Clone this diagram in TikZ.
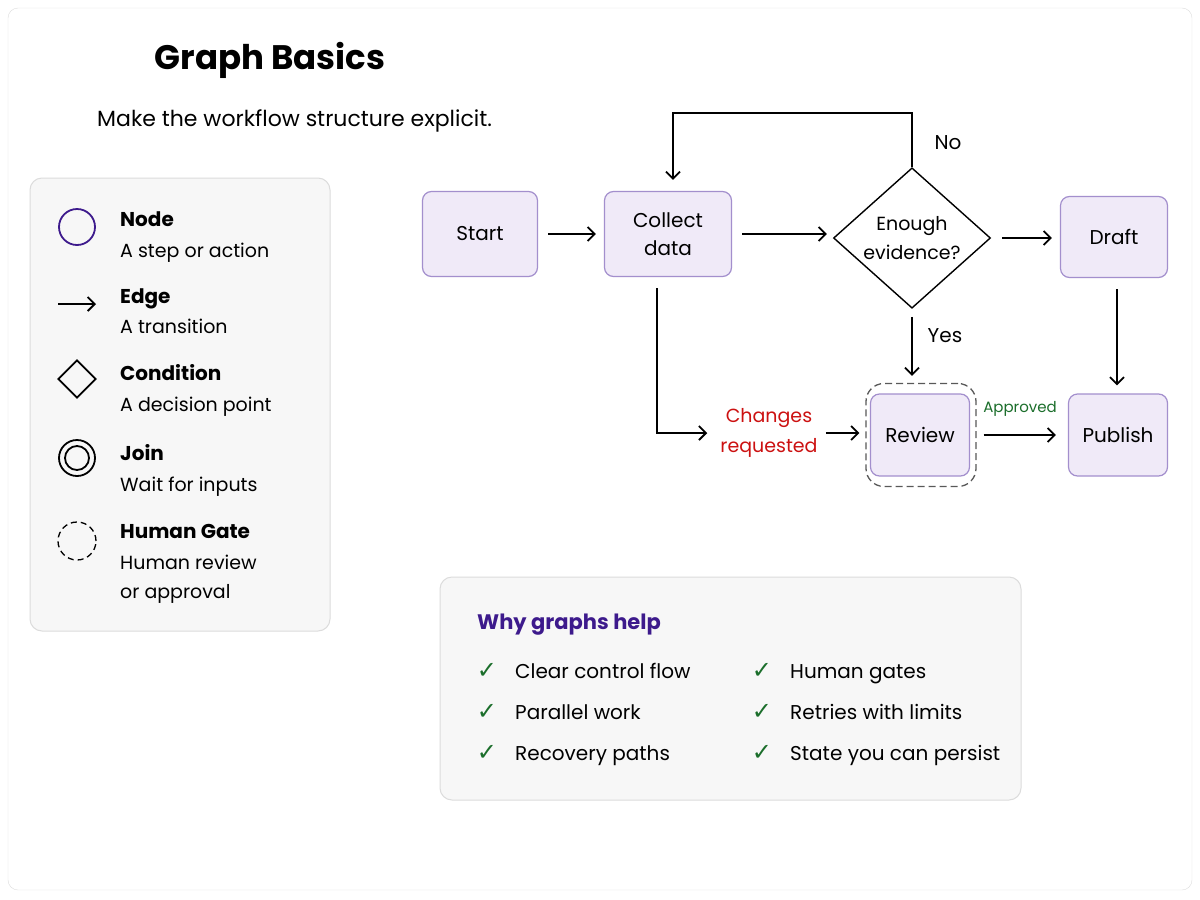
\documentclass[tikz,border=0pt]{standalone}
\usepackage{fontspec}
\setmainfont{Poppins}
\newfontfamily\symfont{DejaVu Sans}
\usetikzlibrary{arrows.meta,shapes.geometric}

\definecolor{nodefill}{HTML}{F0EAF8}
\definecolor{nodeline}{HTML}{A38FCD}
\definecolor{deeppurple}{HTML}{3D1A8C}
\definecolor{panelfill}{HTML}{F7F7F7}
\definecolor{panelline}{HTML}{DCDCDC}
\definecolor{redtext}{HTML}{CC1111}
\definecolor{greentext}{HTML}{1B6E2B}

\tikzset{
  stepnode/.style={draw=nodeline, fill=nodefill, rounded corners=9pt, line width=1.2pt,
    align=center, font=\fontsize{20}{28}\selectfont},
  flow/.style={-{Straight Barb[length=7pt,width=14pt]}, line width=1.8pt},
  panel/.style={draw=panelline, fill=panelfill, rounded corners=12pt, line width=1pt},
  keyname/.style={anchor=base west, inner sep=0pt, font=\fontsize{20}{24}\selectfont\bfseries},
  keytext/.style={anchor=base west, inner sep=0pt, font=\fontsize{19}{24}\selectfont},
  plain/.style={inner sep=0pt, font=\fontsize{20}{24}\selectfont},
  tick/.style={inner sep=0pt, text=greentext, font=\fontsize{24}{28}\symfont},
  perk/.style={anchor=base west, inner sep=0pt, font=\fontsize{20}{24}\selectfont}
}

\begin{document}
\begin{tikzpicture}[x=1pt, y=-1pt]
    \useasboundingbox (0,0) rectangle (1200,900);

    % Frame and headings
    \draw[draw=panelline, fill=white, rounded corners=10pt] (8,8) rectangle (1192,890);
    \node[inner sep=0pt, font=\fontsize{34}{40}\selectfont\bfseries] (title) at (270,60) {Graph Basics};
    \node[anchor=base west, inner sep=0pt, font=\fontsize{22}{26}\selectfont] (subtitle) at (97,126) {Make the workflow structure explicit.};

    % Legend
    \draw[panel] (30,178) rectangle (330,631);
    \node[circle, draw=deeppurple, line width=1.8pt, minimum size=36pt, inner sep=0pt] (keynode) at (77,227) {};
    \node[keyname] (nodename) at (120,226) {Node};
    \node[keytext] (nodetext) at (120,257) {A step or action};
    \coordinate (edgefrom) at (58,304);
    \coordinate (edgeto) at (96,304);
    \draw[flow] (edgefrom) -- (edgeto);
    \node[keyname] (edgename) at (120,303) {Edge};
    \node[keytext] (edgetext) at (120,333) {A transition};
    \node[diamond, draw, line width=1.8pt, minimum size=38pt, inner sep=0pt] (keycond) at (77,379) {};
    \node[keyname] (condname) at (120,380) {Condition};
    \node[keytext] (condtext) at (120,411) {A decision point};
    \node[circle, draw, line width=1.8pt, minimum size=36pt, inner sep=0pt] (keyjoin) at (77,458) {};
    \node[circle, draw, line width=1.8pt, minimum size=24pt, inner sep=0pt] (keyjoininner) at (keyjoin) {};
    \node[keyname] (joinname) at (120,460) {Join};
    \node[keytext] (jointext) at (120,491) {Wait for inputs};
    \node[circle, draw, dashed, dash pattern=on 6pt off 4pt, line width=1.3pt, minimum size=38pt, inner sep=0pt] (keygate) at (77,541) {};
    \node[keyname] (gatename) at (120,538) {Human Gate};
    \node[keytext] (gatetext) at (120,569) {Human review};
    \node[keytext] (gatetextb) at (120,598) {or approval};

    % Workflow nodes
    \node[stepnode, minimum width=115pt, minimum height=85pt] (start) at (480,234) {Start};
    \node[stepnode, minimum width=127pt, minimum height=85pt] (collect) at (668,234) {Collect\\data};
    \node[diamond, draw, line width=1.4pt, minimum width=157pt, minimum height=136pt, inner sep=0pt,
      align=center, font=\fontsize{19}{29}\selectfont] (cond) at (912,238) {Enough\\evidence?};
    \node[stepnode, minimum width=107pt, minimum height=81pt] (draft) at (1114,237) {Draft};
    \node[draw=black!65, dashed, dash pattern=on 7pt off 4pt, line width=1.3pt, rounded corners=18pt,
      minimum width=110pt, minimum height=103pt] (gate) at (921,435) {};
    \node[stepnode, minimum width=99pt, minimum height=82pt] (review) at (920,435) {Review};
    \node[stepnode, minimum width=99pt, minimum height=82pt] (publish) at (1118,435) {Publish};

    % Edge labels
    \node[plain] (no) at (948,143) {No};
    \node[plain] (yes) at (945,336) {Yes};
    \node[inner sep=0pt, align=center, text=redtext, font=\fontsize{19}{30}\selectfont] (changes) at (769,433) {Changes\\requested};
    \node[inner sep=0pt, text=greentext, font=\fontsize{15}{18}\selectfont] (approved) at (1020,409) {Approved};

    % Draw the edges
    \draw[flow, shorten <=10pt, shorten >=8pt] (start) -- (collect);
    \draw[flow, shorten <=10pt, shorten >=6pt] (collect.east) -- (collect.east -| cond.west);
    \draw[flow, shorten <=11pt, shorten >=8pt] (cond.east) -- (cond.east -| draft.west);
    \draw[flow, shorten >=11pt] (cond.north) -- ++(0,-54) -| ([xshift=5pt]collect.north);
    \draw[flow, shorten <=8pt, shorten >=7pt] (cond.south) -- (cond.south |- gate.north);
    \draw[flow, shorten <=11pt, shorten >=8pt] ([xshift=3pt]draft.south) -- ([xshift=3pt]draft.south |- publish.north);
    \draw[flow, shorten <=11pt, shorten >=13pt] ([xshift=-11pt]collect.south) |- (changes.west);
    \draw[flow, shorten <=8pt, shorten >=6pt] (changes.east) -- (changes.east -| gate.west);
    \draw[flow, shorten <=7pt, shorten >=12pt] (gate.east) -- (gate.east -| publish.west);

    % Why graphs help
    \draw[panel] (440,577) rectangle (1021,800);
    \node[anchor=base west, inner sep=0pt, text=deeppurple, font=\fontsize{21}{26}\selectfont\bfseries] (whytitle) at (477,629) {Why graphs help};
    \node[tick] (tickA) at (487,671) {✓};
    \node[perk] (perkA) at (515,678) {Clear control flow};
    \node[tick] (tickB) at (487,712) {✓};
    \node[perk] (perkB) at (515,719) {Parallel work};
    \node[tick] (tickC) at (487,753) {✓};
    \node[perk] (perkC) at (515,760) {Recovery paths};
    \node[tick] (tickD) at (762,671) {✓};
    \node[perk] (perkD) at (790,678) {Human gates};
    \node[tick] (tickE) at (762,712) {✓};
    \node[perk] (perkE) at (790,719) {Retries with limits};
    \node[tick] (tickF) at (762,753) {✓};
    \node[perk] (perkF) at (790,760) {State you can persist};
\end{tikzpicture}
\end{document}
